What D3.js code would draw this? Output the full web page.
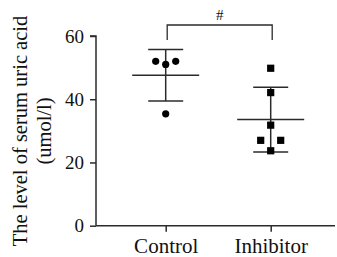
<!DOCTYPE html>
<html>
<head>
<meta charset="utf-8">
<script src="https://d3js.org/d3.v7.min.js"></script>
<style>
  body { margin: 0; background: #fff; }
  svg text { font-family: "Liberation Serif", "Times New Roman", serif; }
</style>
</head>
<body>
<div id="chart"></div>
<script>
const width = 337;
const height = 257;

// data
const groups = ["Control", "Inhibitor"];
const controlValues = [52, 51, 52, 35.4];
const controlJitter = [-1, 0, 1, 0];
const inhibitorValues = [49.8, 42.1, 31.8, 27, 27, 23.7];
const inhibitorJitter = [0, 0, 0, -1, 1, 0];
const yTicks = [0, 20, 40, 60];
const signifLabel = "#";

const series = [
  { group: "Control", values: controlValues, jitter: controlJitter, shape: "circle" },
  { group: "Inhibitor", values: inhibitorValues, jitter: inhibitorJitter, shape: "square" }
];

const svg = d3.select("#chart").append("svg")
  .attr("width", width)
  .attr("height", height);

const y = d3.scaleLinear().domain([0, 60]).range([225.7, 36]);
const x = d3.scalePoint().domain(groups).range([165.7, 270.7]);
const axisLeft = 96, axisRight = 335;
const ink = "#2b2b2b";

// y axis
const yAxis = svg.append("g")
  .attr("transform", `translate(${axisLeft},0)`)
  .call(d3.axisLeft(y).tickValues(yTicks).tickSize(6).tickPadding(6))
  .attr("font-family", null)
  .attr("font-size", null);
yAxis.select(".domain").attr("stroke", ink).attr("stroke-width", 1.5)
  .attr("d", `M-6,${y(60)}H0V${y(0)}`);
yAxis.selectAll(".tick line").attr("stroke", ink).attr("stroke-width", 1.5);
yAxis.selectAll(".tick text")
  .attr("fill", "#111")
  .style("font-size", "19px");

// x axis
const xAxis = svg.append("g")
  .attr("transform", `translate(0,${y(0)})`)
  .call(d3.axisBottom(x).tickSize(6).tickPadding(6))
  .attr("font-family", null)
  .attr("font-size", null);
xAxis.select(".domain").attr("stroke", ink).attr("stroke-width", 1.5)
  .attr("d", `M${axisLeft},0H${axisRight}`);
xAxis.selectAll(".tick line").attr("stroke", ink).attr("stroke-width", 1.5);
xAxis.selectAll(".tick text")
  .attr("fill", "#111")
  .style("font-size", "21px");

// y label
const yl = svg.append("text")
  .attr("transform", "translate(0,131) rotate(-90)")
  .attr("text-anchor", "middle")
  .attr("fill", "#111")
  .style("font-size", "20.5px");
yl.append("tspan").attr("x", 0).attr("y", 27).text("The level of serum uric acid");
yl.append("tspan").attr("x", 0).attr("y", 51).text("(umol/l)");

// points, mean and SD
const jitterPx = 10;
series.forEach(s => {
  const cx = x(s.group);
  const mean = d3.mean(s.values);
  const sd = d3.deviation(s.values);
  const g = svg.append("g");

  g.append("line")
    .attr("x1", cx).attr("x2", cx)
    .attr("y1", y(mean + sd)).attr("y2", y(mean - sd))
    .attr("stroke", ink).attr("stroke-width", 1.5);
  [mean + sd, mean - sd].forEach(v => {
    g.append("line")
      .attr("x1", cx - 17.5).attr("x2", cx + 17.5)
      .attr("y1", y(v)).attr("y2", y(v))
      .attr("stroke", ink).attr("stroke-width", 1.5);
  });
  g.append("line")
    .attr("x1", cx - 33.5).attr("x2", cx + 33.5)
    .attr("y1", y(mean)).attr("y2", y(mean))
    .attr("stroke", ink).attr("stroke-width", 1.5);

  const pts = s.values.map((v, i) => ({ v: v, j: s.jitter[i] }));
  if (s.shape === "circle") {
    g.selectAll("circle").data(pts).join("circle")
      .attr("cx", d => cx + d.j * jitterPx)
      .attr("cy", d => y(d.v))
      .attr("r", 3.6)
      .attr("fill", "#000");
  } else {
    g.selectAll("rect").data(pts).join("rect")
      .attr("x", d => cx + d.j * jitterPx - 3.6)
      .attr("y", d => y(d.v) - 3.6)
      .attr("width", 7.2).attr("height", 7.2)
      .attr("fill", "#000");
  }
});

// significance bracket
const bx1 = x("Control") + 1.5, bx2 = x("Inhibitor") + 1.5;
svg.append("path")
  .attr("d", `M${bx1},40V25H${bx2}V40`)
  .attr("fill", "none")
  .attr("stroke", ink)
  .attr("stroke-width", 1.3);
svg.append("text")
  .attr("x", (bx1 + bx2) / 2)
  .attr("y", 20)
  .attr("text-anchor", "middle")
  .attr("fill", "#111")
  .style("font-size", "15px")
  .text(signifLabel);
</script>
</body>
</html>
